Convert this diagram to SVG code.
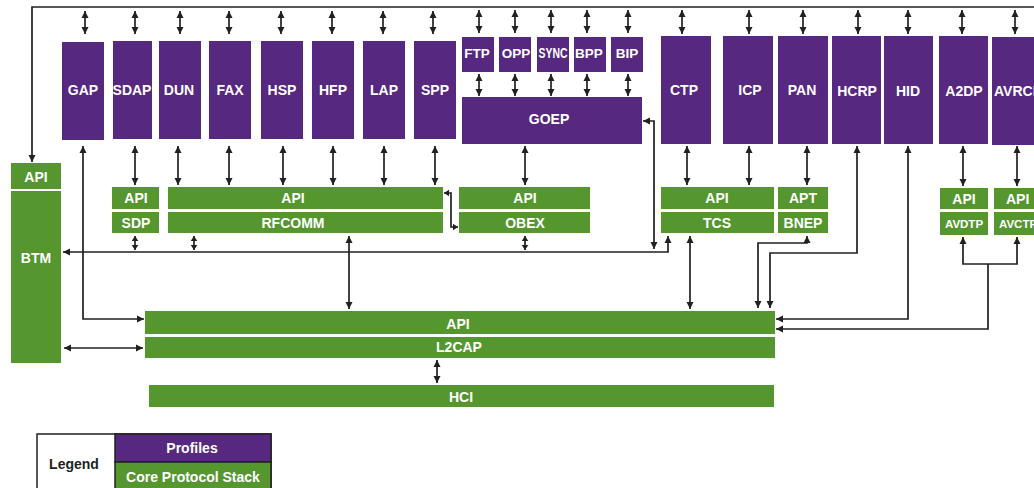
<svg xmlns="http://www.w3.org/2000/svg" width="1034" height="488" viewBox="0 0 1034 488">
<style>
.p{fill:#57287F}
.g{fill:#55962F}
.t{font-family:"Liberation Sans",Arial,sans-serif;font-weight:bold;fill:#fff;font-size:14px;text-anchor:middle}
.s{font-size:13.5px}
.xs{font-size:11.5px}
.c{fill:none;stroke:#231F20;stroke-width:1.7}
.a{marker-end:url(#ah)}
.d{marker-start:url(#ah);marker-end:url(#ah)}
.ds{marker-start:url(#ahs);marker-end:url(#ahs)}
</style>
<defs>
<marker id="ah" markerUnits="userSpaceOnUse" markerWidth="8" markerHeight="8" refX="7" refY="4" orient="auto-start-reverse">
<path d="M0,0.5 L7,4 L0,7.5 z" fill="#231F20"/>
</marker>
<marker id="ahs" markerUnits="userSpaceOnUse" markerWidth="7" markerHeight="8" refX="5" refY="4" orient="auto-start-reverse">
<path d="M0,0.7 L5,4 L0,7.3 z" fill="#231F20"/>
</marker>
</defs>
<rect width="1034" height="488" fill="#fff"/>

<g id="connectors">
<path class="c a" d="M1034,7 H32 V162"/>
<path class="c d" d="M85,11 V34"/>
<path class="c d" d="M135,11 V34"/>
<path class="c d" d="M180,11 V34"/>
<path class="c d" d="M229,11 V34"/>
<path class="c d" d="M281,11 V34"/>
<path class="c d" d="M332,11 V34"/>
<path class="c d" d="M383,11 V34"/>
<path class="c d" d="M433,11 V34"/>
<path class="c d" d="M479,10 V33"/>
<path class="c d" d="M515,10 V33"/>
<path class="c d" d="M551,10 V33"/>
<path class="c d" d="M587,10 V33"/>
<path class="c d" d="M628,10 V33"/>
<path class="c d" d="M479,74 V96"/>
<path class="c d" d="M515,74 V96"/>
<path class="c d" d="M551,74 V96"/>
<path class="c d" d="M587,74 V96"/>
<path class="c d" d="M628,74 V96"/>
<path class="c d" d="M682,10 V34"/>
<path class="c d" d="M749,10 V34"/>
<path class="c d" d="M803,10 V34"/>
<path class="c d" d="M858,10 V34"/>
<path class="c d" d="M908,10 V34"/>
<path class="c d" d="M962,10 V34"/>
<path class="c d" d="M1015,10 V34"/>

<path class="c d" d="M83,146 V319 H144"/>
<path class="c d" d="M135,146 V185"/>
<path class="c d" d="M178,146 V185"/>
<path class="c d" d="M229,146 V185"/>
<path class="c d" d="M283,146 V185"/>
<path class="c d" d="M333,146 V185"/>
<path class="c d" d="M384,146 V185"/>
<path class="c d" d="M435,146 V185"/>
<path class="c d" d="M525,146 V185"/>
<path class="c d" d="M687,146 V185"/>
<path class="c d" d="M749,146 V185"/>
<path class="c d" d="M807,146 V185"/>
<path class="c d" d="M963,146 V186"/>
<path class="c d" d="M1017,146 V186"/>

<path class="c ds" d="M444,193 H451 V227 H458"/>
<path class="c d" d="M63,252 H668 V236"/>
<path class="c d" d="M654,249 V121 H643"/>
<path class="c ds" d="M135,236 V250"/>
<path class="c ds" d="M194,236 V250"/>
<path class="c ds" d="M525,236 V250"/>
<path class="c d" d="M349,236 V309"/>
<path class="c d" d="M690,236 V309"/>
<path class="c d" d="M807,236 V243 H758 V308"/>
<path class="c d" d="M857,146 V253 H770 V308"/>
<path class="c d" d="M908,146 V319 H776"/>
<path class="c d" d="M963,237 V264 H1017 V237"/>
<path class="c a" d="M988,264 V329 H776"/>
<path class="c d" d="M64,348 H143"/>
<path class="c d" d="M437,360 V383"/>
</g>

<g id="GAP"><rect class="p" x="62" y="42" width="42" height="98"/><text class="t" x="83" y="95">GAP</text></g>
<g id="SDAP"><rect class="p" x="113" y="41" width="39" height="98"/><text class="t" x="132" y="95">SDAP</text></g>
<g id="DUN"><rect class="p" x="159" y="41" width="42" height="98"/><text class="t" x="179" y="95">DUN</text></g>
<g id="FAX"><rect class="p" x="209" y="41" width="42" height="98"/><text class="t" x="230" y="95">FAX</text></g>
<g id="HSP"><rect class="p" x="261" y="41" width="42" height="98"/><text class="t" x="282" y="95">HSP</text></g>
<g id="HFP"><rect class="p" x="312" y="41" width="42" height="98"/><text class="t" x="333" y="95">HFP</text></g>
<g id="LAP"><rect class="p" x="363" y="41" width="42" height="98"/><text class="t" x="384" y="95">LAP</text></g>
<g id="SPP"><rect class="p" x="414" y="41" width="42" height="98"/><text class="t" x="435" y="95">SPP</text></g>
<g id="FTP"><rect class="p" x="462" y="37" width="32" height="35"/><text class="t s" x="477" y="58">FTP</text></g>
<g id="OPP"><rect class="p" x="499" y="37" width="32" height="35"/><text class="t s" x="516" y="58">OPP</text></g>
<g id="SYNC"><rect class="p" x="537" y="37" width="32" height="35"/><text class="t" x="553" y="58" font-size="12" textLength="29" lengthAdjust="spacingAndGlyphs">SYNC</text></g>
<g id="BPP"><rect class="p" x="574" y="37" width="32" height="35"/><text class="t s" x="589" y="58">BPP</text></g>
<g id="BIP"><rect class="p" x="611" y="37" width="32" height="35"/><text class="t s" x="627" y="58">BIP</text></g>
<g id="GOEP"><rect class="p" x="462" y="97" width="180" height="47"/><text class="t" x="549" y="124">GOEP</text></g>
<g id="CTP"><rect class="p" x="661" y="36" width="50" height="108"/><text class="t" x="684" y="95">CTP</text></g>
<g id="ICP"><rect class="p" x="723" y="36" width="50" height="108"/><text class="t" x="750" y="95">ICP</text></g>
<g id="PAN"><rect class="p" x="778" y="36" width="50" height="108"/><text class="t" x="802" y="95">PAN</text></g>
<g id="HCRP"><rect class="p" x="832" y="36" width="49" height="108"/><text class="t" x="857" y="96">HCRP</text></g>
<g id="HID"><rect class="p" x="884" y="36" width="49" height="108"/><text class="t" x="908" y="96">HID</text></g>
<g id="A2DP"><rect class="p" x="939" y="36" width="49" height="108"/><text class="t" x="964" y="96">A2DP</text></g>
<g id="AVRCP"><rect class="p" x="992" y="37" width="60" height="108"/><text class="t" x="994" y="96" style="text-anchor:start">AVRCP</text></g>

<g id="BTM"><rect class="g" x="11" y="163" width="50" height="26"/><rect class="g" x="11" y="191" width="50" height="172"/><text class="t" x="36" y="182">API</text><text class="t" x="36" y="263">BTM</text></g>
<g id="SDP"><rect class="g" x="112" y="187" width="47" height="22"/><rect class="g" x="112" y="212" width="47" height="21"/><text class="t" x="136" y="203">API</text><text class="t" x="136" y="228">SDP</text></g>
<g id="RFCOMM"><rect class="g" x="168" y="187" width="275" height="22"/><rect class="g" x="168" y="212" width="275" height="21"/><text class="t" x="293" y="203">API</text><text class="t" x="293" y="228">RFCOMM</text></g>
<g id="OBEX"><rect class="g" x="459" y="187" width="131" height="22"/><rect class="g" x="459" y="212" width="131" height="21"/><text class="t" x="525" y="203">API</text><text class="t" x="525" y="228">OBEX</text></g>
<g id="TCS"><rect class="g" x="661" y="187" width="113" height="22"/><rect class="g" x="661" y="212" width="113" height="21"/><text class="t" x="717" y="203">API</text><text class="t" x="717" y="228">TCS</text></g>
<g id="BNEP"><rect class="g" x="778" y="187" width="50" height="22"/><rect class="g" x="778" y="212" width="50" height="21"/><text class="t" x="803" y="203">APT</text><text class="t" x="803" y="228">BNEP</text></g>
<g id="AVDTP"><rect class="g" x="940" y="188" width="48" height="21"/><rect class="g" x="940" y="212" width="48" height="23"/><text class="t" x="964" y="204">API</text><text class="t xs" x="964" y="228">AVDTP</text></g>
<g id="AVCTP"><rect class="g" x="994" y="188" width="60" height="21"/><rect class="g" x="994" y="212" width="60" height="23"/><text class="t" x="1006" y="204" style="text-anchor:start">API</text><text class="t xs" x="999" y="228" style="text-anchor:start">AVCTP</text></g>
<g id="L2CAP"><rect class="g" x="145" y="311" width="630" height="23"/><rect class="g" x="145" y="337" width="630" height="21"/><text class="t" x="458" y="329">API</text><text class="t" x="459" y="352">L2CAP</text></g>
<g id="HCI"><rect class="g" x="149" y="385" width="625" height="22"/><text class="t" x="461" y="402">HCI</text></g>

<g id="legend">
<rect x="37" y="434" width="234" height="60" fill="#fff" stroke="#231F20" stroke-width="1.5"/>
<rect class="p" x="115" y="434" width="156" height="28" stroke="#231F20" stroke-width="1.5"/>
<rect class="g" x="115" y="462" width="156" height="32" stroke="#231F20" stroke-width="1.5"/>
<text class="t" x="74" y="469" style="fill:#231F20" font-size="14.5">Legend</text>
<text class="t" x="192" y="453" font-size="14.5">Profiles</text>
<text class="t" x="193" y="482" font-size="14.5">Core Protocol Stack</text>
</g>
</svg>
